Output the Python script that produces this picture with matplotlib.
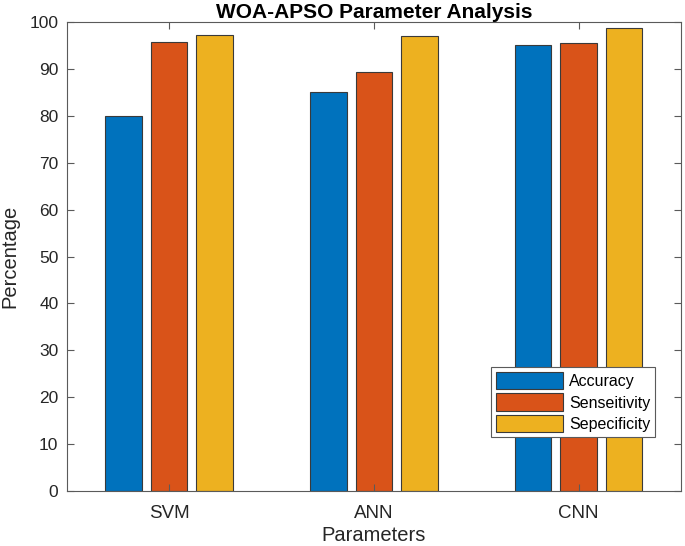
import matplotlib
matplotlib.use('Agg')
import matplotlib.pyplot as plt
import numpy as np

plt.rcParams['font.family'] = ['Liberation Sans', 'DejaVu Sans']

# values
models = ['SVM', 'ANN', 'CNN']
accuracy = [80.0, 85.0, 95.2]
sensitivity = [95.8, 89.3, 95.5]
specificity = [97.2, 97.0, 98.7]
series_names = ['Accuracy', 'Senseitivity', 'Sepecificity']
colors = ['#0072BD', '#D95319', '#EDB120']

fig = plt.figure(figsize=(6.85, 5.46), dpi=100)
ax = fig.add_axes([0.0974, 0.1007, 0.8966, 0.859])

x = np.arange(1, len(models) + 1)
slot = 0.2222
width = 0.178
for i, (vals, name, c) in enumerate(zip([accuracy, sensitivity, specificity], series_names, colors)):
    ax.bar(x + (i - 1) * slot, vals, width, color=c, edgecolor='#3a3a3a', linewidth=0.8, label=name)

ax.set_xlim(0.5, 3.5)
ax.set_ylim(0, 100)
ax.set_xticks(x)
ax.set_xticklabels(models)
ax.set_yticks(np.arange(0, 101, 10))

txt = '#262626'
for s in ax.spines.values():
    s.set_color('#5a5a5a')
    s.set_linewidth(0.8)
ax.tick_params(direction='in', length=5, width=0.8, color='#5a5a5a', top=True, right=True,
               labelcolor=txt)
ax.tick_params(axis='y', labelsize=12.5, pad=6)
ax.tick_params(axis='x', labelsize=13.5, pad=10)

ax.set_xlabel('Parameters', fontsize=14.5, color=txt, labelpad=3)
ax.set_ylabel('Percentage', fontsize=14.5, color=txt, labelpad=7)
ax.set_title('WOA-APSO Parameter Analysis', fontsize=15, fontweight='bold', pad=3)

leg = ax.legend(loc='lower right', bbox_to_anchor=(0.958, 0.115), borderaxespad=0,
                fontsize=11.5, fancybox=False, framealpha=1, edgecolor='#5a5a5a',
                handlelength=4.2, handleheight=1.3, handletextpad=0.4,
                labelspacing=0.25, borderpad=0.3)
leg.get_frame().set_linewidth(0.8)

fig.savefig('out.png', dpi=100)
